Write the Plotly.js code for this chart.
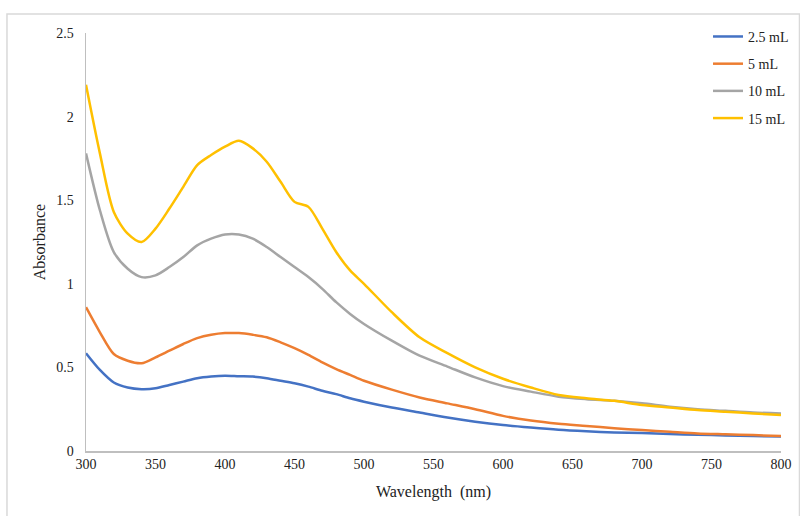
<!DOCTYPE html>
<html>
<head>
<meta charset="utf-8">
<script src="https://cdn.plot.ly/plotly-3.0.1.min.js"></script>
<style>
html,body{margin:0;padding:0;background:#fff;}
#chart{width:800px;height:516px;}
</style>
</head>
<body>
<div id="chart"></div>
<script>
const wavelength = [300,310,320,330,340,350,360,370,380,390,400,410,420,430,440,450,460,470,480,490,500,520,540,560,580,600,620,640,660,680,700,720,740,760,780,800];
const seriesNames = ["2.5 mL","5 mL","10 mL","15 mL"];
const abs2_5 = [0.585,0.485,0.41,0.38,0.37,0.375,0.395,0.415,0.435,0.445,0.45,0.447,0.445,0.435,0.42,0.405,0.385,0.36,0.34,0.315,0.295,0.26,0.23,0.2,0.175,0.155,0.14,0.127,0.118,0.111,0.107,0.101,0.097,0.093,0.09,0.086];
const abs5 = [0.86,0.71,0.58,0.54,0.525,0.56,0.6,0.64,0.675,0.695,0.705,0.705,0.695,0.68,0.65,0.615,0.575,0.53,0.49,0.455,0.42,0.367,0.32,0.285,0.25,0.21,0.182,0.163,0.15,0.136,0.125,0.115,0.105,0.1,0.095,0.09];
const abs10 = [1.78,1.44,1.19,1.09,1.04,1.05,1.1,1.16,1.23,1.27,1.295,1.295,1.27,1.22,1.16,1.1,1.04,0.97,0.89,0.82,0.76,0.66,0.57,0.505,0.44,0.388,0.355,0.325,0.31,0.3,0.285,0.265,0.25,0.24,0.23,0.225];
const abs15 = [2.19,1.78,1.43,1.3,1.25,1.33,1.45,1.58,1.71,1.77,1.82,1.855,1.81,1.73,1.61,1.49,1.46,1.33,1.19,1.08,1.0,0.83,0.68,0.585,0.5,0.432,0.38,0.335,0.315,0.3,0.275,0.26,0.245,0.235,0.225,0.215];
const yTicks = [0,0.5,1,1.5,2,2.5];
const yTickText = ["0","0.5","1","1.5","2","2.5"];
const xTicks = [300,350,400,450,500,550,600,650,700,750,800];
const colors = ["#4472C4","#ED7D31","#A5A5A5","#FFC000"];
const allY = [abs2_5, abs5, abs10, abs15];

const traces = allY.map((ys,i)=>({
  x: wavelength, y: ys, name: seriesNames[i], type:'scatter', mode:'lines',
  legendgroup: 'g'+i,
  line:{color:colors[i], width:2.5, shape:'spline', smoothing:0.8}
}));

const serif = "'Liberation Serif','Times New Roman',serif";
const layout = {
  width:800, height:516,
  margin:{l:86, r:19, t:33, b:65, autoexpand:false},
  paper_bgcolor:'#fff', plot_bgcolor:'#fff',
  font:{family:serif, color:'#222', size:14},
  showlegend:true,
  legend:{x:0.895, y:1.029, xanchor:'left', yanchor:'top', font:{family:serif,size:14,color:'#222'}, tracegroupgap:6, bgcolor:'rgba(0,0,0,0)'},
  xaxis:{range:[300,800], tickvals:xTicks, ticks:'', showgrid:false, zeroline:false, automargin:false,
    showline:true, linecolor:'#bfbfbf', linewidth:1.5, tickfont:{family:serif,size:14,color:'#222'},
    title:{text:'Wavelength  (nm)', font:{family:serif,size:16,color:'#222'}, standoff:14}},
  yaxis:{range:[0,2.5], tickvals:yTicks, ticktext:yTickText, ticks:'', showgrid:false, zeroline:false, automargin:false,
    showline:true, linecolor:'#bfbfbf', linewidth:1.5, ticklabelstandoff:8, tickfont:{family:serif,size:14,color:'#222'},
    title:{text:'Absorbance', font:{family:serif,size:16,color:'#222'}, standoff:6}},
  shapes:[{type:'rect', xref:'paper', yref:'paper', x0:-0.1137, x1:1.0266, y0:-0.2, y1:1.0455,
    line:{color:'#d9d9d9', width:1.5}, fillcolor:'rgba(0,0,0,0)', layer:'below'}]
};
Plotly.newPlot('chart', traces, layout, {displayModeBar:false, staticPlot:true});
</script>
</body>
</html>
